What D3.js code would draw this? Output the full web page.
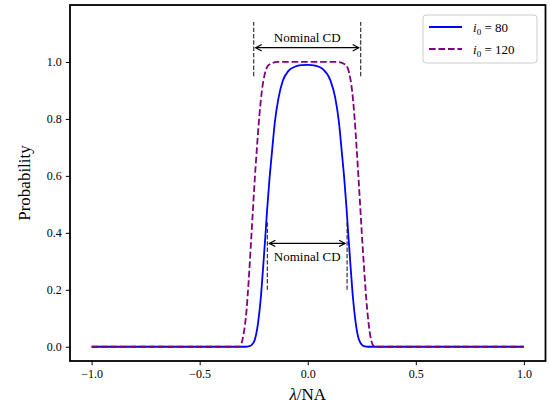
<!DOCTYPE html>
<html>
<head>
<meta charset="utf-8">
<script src="https://cdn.jsdelivr.net/npm/d3@7"></script>
<style>
  body { margin: 0; background: #fff; }
</style>
</head>
<body>
<div id="graph"></div>
<script>
// Datos
const xTicks = [-1.0, -0.5, 0.0, 0.5, 1.0];
const yTicks = [0.0, 0.2, 0.4, 0.6, 0.8, 1.0];

const x80 = [-1.0, -0.29, -0.27, -0.258, -0.245, -0.230, -0.218, -0.206, -0.196, -0.188, -0.178, -0.166, -0.152, -0.135, -0.115, -0.09, -0.06, -0.03, 0.0, 0.035, 0.07, 0.105, 0.127, 0.144, 0.158, 0.17, 0.18, 0.188, 0.198, 0.21, 0.222, 0.237, 0.26, 0.28, 1.0];
const y80 = [0, 0, 0.002, 0.008, 0.025, 0.083, 0.165, 0.283, 0.39, 0.48, 0.58, 0.68, 0.79, 0.875, 0.935, 0.968, 0.983, 0.989, 0.99, 0.987, 0.975, 0.935, 0.875, 0.79, 0.68, 0.58, 0.48, 0.39, 0.283, 0.165, 0.083, 0.025, 0.002, 0, 0];

const x120 = [-1.0, -0.33, -0.314, -0.299, -0.283, -0.271, -0.26, -0.253, -0.245, -0.235, -0.224, -0.212, -0.198, -0.18, -0.14, 0.0, 0.14, 0.175, 0.192, 0.205, 0.216, 0.226, 0.235, 0.243, 0.25, 0.262, 0.275, 0.29, 0.306, 0.32, 1.0];
const y120 = [0, 0, 0.001, 0.036, 0.13, 0.26, 0.40, 0.49, 0.59, 0.70, 0.81, 0.90, 0.96, 0.99, 1.0, 1.0, 1.0, 0.99, 0.96, 0.90, 0.81, 0.70, 0.59, 0.49, 0.40, 0.26, 0.13, 0.036, 0.002, 0, 0];

const series = [
  { sub: "0", value: "80", xs: x80, ys: y80, color: "blue", dash: null },
  { sub: "0", value: "120", xs: x120, ys: y120, color: "purple", dash: "6.6,2.9" }
];

// Anotaciones "Nominal CD": [x izquierda, x derecha, y inferior, y superior, y flecha, y texto]
const cdTop = [-0.25, 0.245, 0.95, 1.14, 1.05, 1.07];
const cdBottom = [-0.187, 0.182, 0.20, 0.44, 0.363, 0.30];

const serif = "'Liberation Serif', 'Times New Roman', serif";
const width = 550, height = 409;
const margin = { left: 70, right: 4.5, top: 5, bottom: 48 };

const svg = d3.select("#graph").append("svg")
  .attr("width", width)
  .attr("height", height)
  .style("font-family", serif);

const x = d3.scaleLinear().domain([-1.1, 1.1]).range([margin.left, width - margin.right]);
const y = d3.scaleLinear().domain([-0.05, 1.2]).range([height - margin.bottom, margin.top]);

// Ejes
const xAxis = svg.append("g")
  .attr("transform", `translate(0,${height - margin.bottom})`)
  .call(d3.axisBottom(x).tickValues(xTicks).tickSize(4.2).tickPadding(4)
    .tickFormat(d => d3.format(".1f")(d).replace("-", "\u2212")));
const yAxis = svg.append("g")
  .attr("transform", `translate(${margin.left},0)`)
  .call(d3.axisLeft(y).tickValues(yTicks).tickSize(4.2).tickPadding(4)
    .tickFormat(d3.format(".1f")));

[xAxis, yAxis].forEach(g => {
  g.attr("font-family", null).style("font-family", serif);
  g.select(".domain").remove();
  g.selectAll(".tick line").attr("stroke", "#000").attr("stroke-width", 1);
  g.selectAll(".tick text").attr("font-size", 12).attr("fill", "#000")
    .style("font-family", serif);
});

// Curvas
const line = d3.line()
  .x(d => x(d[0]))
  .y(d => y(d[1]))
  .curve(d3.curveMonotoneX);

series.forEach(s => {
  svg.append("path")
    .datum(s.xs.map((v, i) => [v, s.ys[i]]))
    .attr("d", line)
    .attr("fill", "none")
    .attr("stroke", s.color)
    .attr("stroke-width", 1.8)
    .attr("stroke-dasharray", s.dash);
});

// Anotaciones
function cdAnnotation(a) {
  const g = svg.append("g");
  [a[0], a[1]].forEach(v => {
    g.append("line")
      .attr("x1", x(v)).attr("x2", x(v))
      .attr("y1", y(a[2])).attr("y2", y(a[3]))
      .attr("stroke", "#222").attr("stroke-width", 1.1)
      .attr("stroke-dasharray", "4.4,1.9");
  });
  const x0 = x(a[0]) + 2, x1 = x(a[1]) - 2, ya = y(a[4]);
  g.append("line")
    .attr("x1", x0).attr("x2", x1).attr("y1", ya).attr("y2", ya)
    .attr("stroke", "#000").attr("stroke-width", 1.2);
  g.append("path")
    .attr("d", `M${x0 + 6},${ya - 3.2}L${x0},${ya}L${x0 + 6},${ya + 3.2}M${x1 - 6},${ya - 3.2}L${x1},${ya}L${x1 - 6},${ya + 3.2}`)
    .attr("fill", "none").attr("stroke", "#000").attr("stroke-width", 1.2);
  g.append("text")
    .attr("x", x((a[0] + a[1]) / 2)).attr("y", y(a[5]))
    .attr("text-anchor", "middle").attr("font-size", 13)
    .style("font-family", serif)
    .text("Nominal CD");
}
cdAnnotation(cdTop);
cdAnnotation(cdBottom);

// Marco
svg.append("rect")
  .attr("x", margin.left).attr("y", margin.top)
  .attr("width", width - margin.left - margin.right)
  .attr("height", height - margin.top - margin.bottom)
  .attr("fill", "none").attr("stroke", "#000").attr("stroke-width", 1.8);

// Etiquetas de los ejes
const xl = svg.append("text")
  .attr("x", x(0)).attr("y", 400)
  .attr("text-anchor", "middle").attr("font-size", 17)
  .style("font-family", serif);
xl.append("tspan").attr("font-style", "italic").text("λ");
xl.append("tspan").text("/NA");

svg.append("text")
  .attr("transform", `translate(30,${(margin.top + height - margin.bottom) / 2}) rotate(-90)`)
  .attr("text-anchor", "middle").attr("font-size", 17)
  .style("font-family", serif)
  .text("Probability");

// Leyenda
const legend = svg.append("g").attr("transform", "translate(423,15)");
legend.append("rect")
  .attr("width", 114).attr("height", 48).attr("rx", 3)
  .attr("fill", "#fff").attr("fill-opacity", 0.8)
  .attr("stroke", "#ccc").attr("stroke-width", 1);
series.forEach((s, i) => {
  const yy = 12 + i * 22;
  legend.append("line")
    .attr("x1", 6).attr("x2", 39).attr("y1", yy).attr("y2", yy)
    .attr("stroke", s.color).attr("stroke-width", 1.8)
    .attr("stroke-dasharray", s.dash);
  const t = legend.append("text")
    .attr("x", 50).attr("y", yy + 5).attr("font-size", 13)
    .style("font-family", serif);
  t.append("tspan").attr("font-style", "italic").text("i");
  t.append("tspan").attr("font-size", 9).attr("dy", 3).text(s.sub);
  t.append("tspan").attr("dy", -3).text(" = " + s.value);
});
</script>
</body>
</html>
